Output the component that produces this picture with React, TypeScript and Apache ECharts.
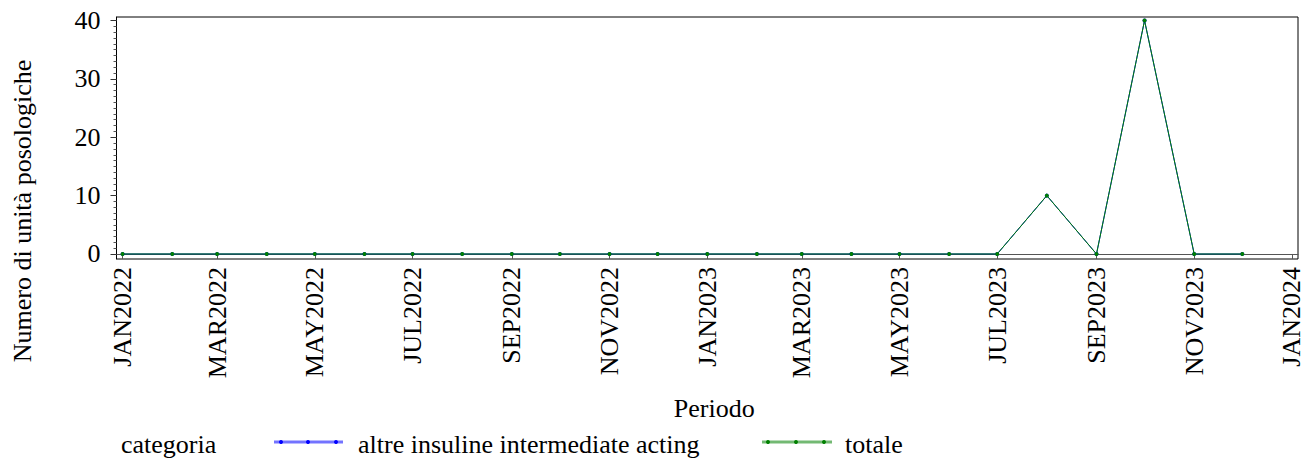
import React, { useEffect, useRef } from "react";
import * as echarts from "echarts";

const months: string[] = [
  "2022-01", "2022-02", "2022-03", "2022-04", "2022-05", "2022-06",
  "2022-07", "2022-08", "2022-09", "2022-10", "2022-11", "2022-12",
  "2023-01", "2023-02", "2023-03", "2023-04", "2023-05", "2023-06",
  "2023-07", "2023-08", "2023-09", "2023-10", "2023-11", "2023-12",
];
const altreInsuline: number[] = [
  0, 0, 0, 0, 0, 0, 0, 0, 0, 0, 0, 0,
  0, 0, 0, 0, 0, 0, 0, 10, 0, 40, 0, 0,
];
const totale: number[] = [
  0, 0, 0, 0, 0, 0, 0, 0, 0, 0, 0, 0,
  0, 0, 0, 0, 0, 0, 0, 10, 0, 40, 0, 0,
];
const xTickMonths: string[] = [
  "2022-01", "2022-03", "2022-05", "2022-07", "2022-09", "2022-11",
  "2023-01", "2023-03", "2023-05", "2023-07", "2023-09", "2023-11", "2024-01",
];
const yMajorTicks: number[] = [0, 10, 20, 30, 40];
const yMinorTicks: number[] = [
  0, 1, 2, 3, 4, 5, 6, 7, 8, 9, 10, 11, 12, 13, 14, 15, 16, 17, 18, 19, 20,
  21, 22, 23, 24, 25, 26, 27, 28, 29, 30, 31, 32, 33, 34, 35, 36, 37, 38, 39, 40,
];
const monthNames = ["JAN", "FEB", "MAR", "APR", "MAY", "JUN", "JUL", "AUG", "SEP", "OCT", "NOV", "DEC"];

const toMs = (m: string) => {
  const [y, mo] = m.split("-").map(Number);
  return Date.UTC(y, mo - 1, 1);
};
const DAY = 86400000;
const FONT = "Liberation Serif";

export default function App() {
  const ref = useRef<HTMLDivElement>(null);
  useEffect(() => {
    document.body.style.margin = "0";
    const chart = echarts.init(ref.current!, null, { renderer: "svg" });
    const xMin = toMs("2022-01") - 3.8 * DAY;
    const xMax = toMs("2024-01") + 3.8 * DAY;
    const yMin = -0.86;
    const yMax = 40.6;
    const fmt = (v: number) => {
      const d = new Date(v);
      return monthNames[d.getUTCMonth()] + d.getUTCFullYear();
    };
    const txt = (text: string, x: number, y: number) => ({
      type: "text",
      x,
      y,
      style: { text, fontFamily: FONT, fontSize: 26, fill: "#000", verticalAlign: "middle" },
    });
    chart.setOption({
      animation: false,
      textStyle: { fontFamily: FONT },
      grid: {
        left: 116.5,
        right: 12,
        top: 17,
        bottom: 200,
        show: true,
        borderColor: "#000",
        borderWidth: 1,
      },
      xAxis: {
        type: "value",
        min: xMin,
        max: xMax,
        name: "Periodo",
        nameLocation: "middle",
        nameGap: 136,
        nameTextStyle: { fontFamily: FONT, fontSize: 26, color: "#000", padding: [0, 0, 0, 14] },
        axisLine: { show: true, lineStyle: { color: "#555", width: 1 } },
        axisTick: {
          show: true,
          length: 5,
          customValues: xTickMonths.map(toMs),
          lineStyle: { color: "#555" },
        },
        axisLabel: {
          customValues: xTickMonths.map(toMs),
          rotate: 90,
          margin: 8,
          fontFamily: FONT,
          fontSize: 26,
          color: "#000",
          formatter: fmt,
        },
        splitLine: { show: false },
      },
      yAxis: [
        {
          type: "value",
          min: yMin,
          max: yMax,
          axisLine: { show: true, lineStyle: { color: "#000", width: 1 } },
          axisTick: {
            show: true,
            length: 3,
            customValues: yMinorTicks,
            lineStyle: { color: "#555" },
          },
          axisLabel: { show: false },
          splitLine: { show: false },
        },
        {
          type: "value",
          position: "left",
          min: yMin,
          max: yMax,
          axisLine: { show: false },
          axisTick: {
            show: true,
            length: 6,
            customValues: yMajorTicks,
            lineStyle: { color: "#333" },
          },
          axisLabel: {
            customValues: yMajorTicks,
            margin: 16,
            fontFamily: FONT,
            fontSize: 26,
            color: "#000",
          },
          splitLine: { show: false },
        },
      ],
      series: [
        {
          name: "altre insuline intermediate acting",
          type: "line",
          data: months.map((m, i) => [toMs(m), altreInsuline[i]]),
          symbol: "circle",
          symbolSize: 4,
          lineStyle: { color: "#0000ff", width: 1 },
          itemStyle: { color: "#0000ff" },
        },
        {
          name: "totale",
          type: "line",
          data: months.map((m, i) => [toMs(m), totale[i]]),
          symbol: "circle",
          symbolSize: 4,
          lineStyle: { color: "#008000", width: 1 },
          itemStyle: { color: "#008000" },
        },
      ],
      graphic: [
        {
          type: "text",
          x: 22,
          y: 211,
          rotation: Math.PI / 2,
          style: {
            text: "Numero di unità posologiche",
            fontFamily: FONT,
            fontSize: 26,
            fill: "#000",
            align: "center",
            verticalAlign: "middle",
          },
        },
        txt("categoria", 121, 444),
        {
          type: "line",
          shape: { x1: 274, y1: 442, x2: 343, y2: 442 },
          style: { stroke: "rgba(0,0,255,0.55)", lineWidth: 3 },
        },
        { type: "circle", shape: { cx: 281, cy: 442, r: 2 }, style: { fill: "#0000ff" } },
        { type: "circle", shape: { cx: 308, cy: 442, r: 2 }, style: { fill: "#0000ff" } },
        { type: "circle", shape: { cx: 336, cy: 442, r: 2 }, style: { fill: "#0000ff" } },
        txt("altre insuline intermediate acting", 358, 444),
        {
          type: "line",
          shape: { x1: 762, y1: 442, x2: 832, y2: 442 },
          style: { stroke: "rgba(0,128,0,0.55)", lineWidth: 3 },
        },
        { type: "circle", shape: { cx: 768, cy: 442, r: 2 }, style: { fill: "#008000" } },
        { type: "circle", shape: { cx: 796, cy: 442, r: 2 }, style: { fill: "#008000" } },
        { type: "circle", shape: { cx: 824, cy: 442, r: 2 }, style: { fill: "#008000" } },
        txt("totale", 845, 444),
      ],
    });
    return () => chart.dispose();
  }, []);
  return <div ref={ref} style={{ width: 1310, height: 459 }} />;
}
